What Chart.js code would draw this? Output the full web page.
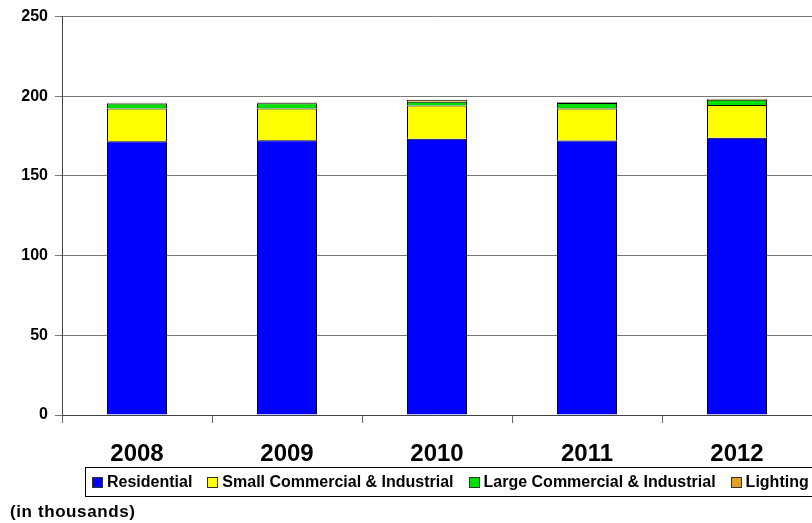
<!DOCTYPE html>
<html lang="en">
<head>
  <meta charset="UTF-8" />
  <title>Customers by class</title>
  <script src="https://cdn.jsdelivr.net/npm/chart.js"></script>
  <style>
    body {
      margin: 0;
      background: #fff;
      font-family: "Liberation Sans", Arial, sans-serif;
    }
    #wrap {
      position: relative;
      width: 812px;
      height: 523px;
      overflow: hidden;
    }
    #legend {
      position: absolute;
      left: 85px;
      top: 467px;
      width: 740px;
      height: 30px;
      border: 1px solid #000;
      display: flex;
      align-items: center;
      font-weight: bold;
      font-size: 16px;
      white-space: nowrap;
      padding-left: 6px;
      box-sizing: border-box;
    }
    #legend span.item { display: inline-flex; align-items: center; margin-right: 15px; }
    #legend i {
      display: inline-block;
      width: 9px;
      height: 9px;
      border: 1px solid #333;
      margin-right: 4px;
    }
    #unit {
      position: absolute;
      left: 10px;
      top: 502px;
      font-weight: bold;
      font-size: 17px;
      letter-spacing: 0.6px;
    }
  </style>
</head>
<body>
  <div id="wrap">
    <canvas id="chart" width="812" height="523"></canvas>
    <div id="legend"></div>
    <div id="unit">(in thousands)</div>
  </div>

  <script>
    const years = ['2008', '2009', '2010', '2011', '2012'];
    const residential = [171.8, 172.4, 173.3, 172.3, 174.0];
    const smallCI = [20.6, 20.0, 20.9, 20.0, 20.6];
    const largeCI = [3.1, 3.3, 2.3, 3.5, 3.2];
    const lighting = [0.4, 0.4, 1.4, 0.4, 0.6];

    const seriesNames = ['Residential', 'Small Commercial & Industrial', 'Large Commercial & Industrial', 'Lighting'];
    const seriesColors = ['#0000FF', '#FFFF00', '#00E000', '#E0A020'];
    const seriesData = [residential, smallCI, largeCI, lighting];

    const datasets = seriesNames.map((name, i) => ({
      label: name,
      data: seriesData[i],
      backgroundColor: seriesColors[i],
      borderColor: '#000',
      borderWidth: 1,
      barPercentage: 0.4,
      categoryPercentage: 1.0
    }));

    new Chart(document.getElementById('chart'), {
      type: 'bar',
      data: { labels: years, datasets: datasets },
      options: {
        responsive: false,
        animation: false,
        layout: { padding: { top: 15, right: 0, left: 0, bottom: 0 } },
        plugins: {
          legend: { display: false },
          tooltip: { enabled: false }
        },
        scales: {
          x: {
            stacked: true,
            offset: true,
            grid: {
              offset: true,
              drawOnChartArea: false,
              drawTicks: true,
              tickLength: 8,
              color: '#666'
            },
            border: { color: '#444', width: 1 },
            ticks: {
              color: '#000',
              padding: 17,
              font: { family: '"Liberation Sans", Arial', size: 24, weight: 'bold' }
            },
            afterFit: (s) => { s.height = 108; }
          },
          y: {
            stacked: true,
            min: 0,
            max: 250,
            ticks: {
              stepSize: 50,
              color: '#000',
              padding: 7,
              font: { family: '"Liberation Sans", Arial', size: 16, weight: 'bold' }
            },
            grid: { color: '#777', tickLength: 7 },
            border: { color: '#444', width: 1 },
            afterFit: (s) => { s.width = 62; }
          }
        }
      }
    });

    const legend = document.getElementById('legend');
    seriesNames.forEach((name, i) => {
      const item = document.createElement('span');
      item.className = 'item';
      item.innerHTML = '<i style="background:' + seriesColors[i] + '"></i>' + name;
      legend.appendChild(item);
    });
  </script>
</body>
</html>
